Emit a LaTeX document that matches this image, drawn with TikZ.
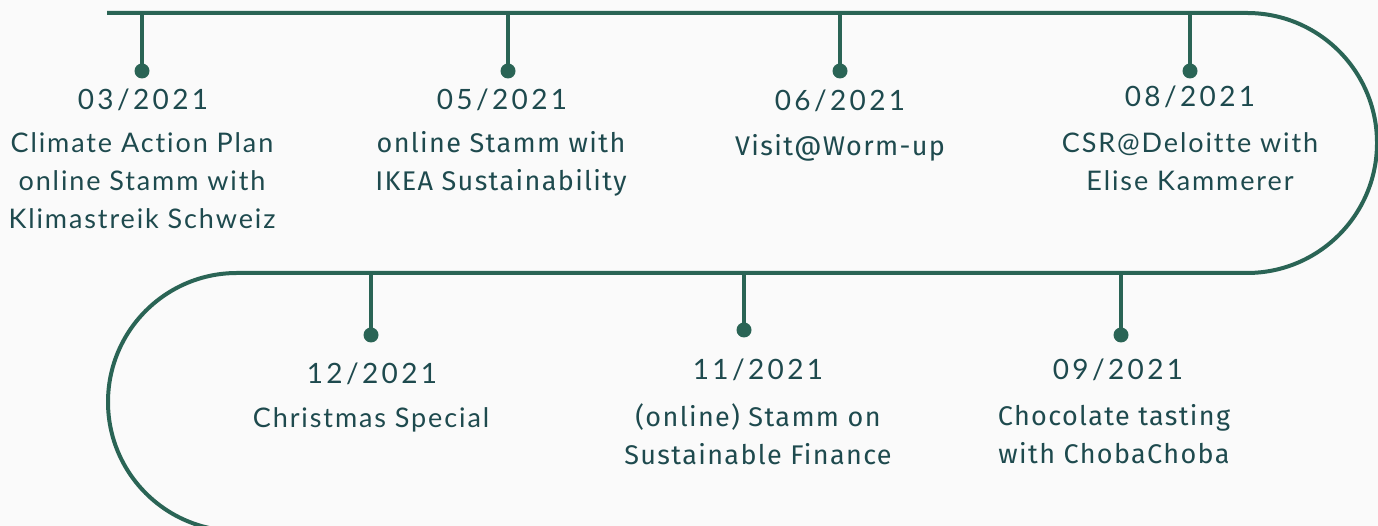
\documentclass[tikz,border=0pt]{standalone}
\usepackage{fontspec}
\setmainfont{Lato}
\newfontfamily\ralefont[LetterSpace=7,Ligatures=NoCommon]{Lato}
\newfontfamily\datefont[LetterSpace=12,Ligatures=NoCommon]{Lato}
\newfontfamily\plexfont[LetterSpace=5,Ligatures=NoCommon]{Fira Sans}
\definecolor{bg}{HTML}{FAFAFA}
\definecolor{linegreen}{HTML}{2A6455}
\definecolor{txt}{HTML}{1E4A4E}
\tikzset{
  timeline/.style={draw=linegreen, line width=4pt},
  dot/.style={circle, fill=linegreen, inner sep=0pt, minimum size=15pt},
  datelbl/.style={text=txt, font=\datefont\fontsize{28}{38}\selectfont, inner sep=0pt},
  desclbl/.style={text=txt, font=\ralefont\fontsize{27}{38}\selectfont, align=center, inner sep=0pt},
  plexlbl/.style={text=txt, font=\plexfont\fontsize{27}{38}\selectfont, align=center, inner sep=0pt},
}
\begin{document}
\begin{tikzpicture}[x=1pt,y=1pt]
\fill[bg] (0,0) rectangle (1378,526);
\useasboundingbox (0,0) rectangle (1378,526);
\begin{scope}
\clip (0,0) rectangle (1378,526);
\coordinate (start) at (107,513);
\coordinate (rturn) at (1247,513);
\coordinate (lturn) at (237,253);
\draw[timeline] (start) -- (rturn) arc[start angle=90, end angle=-90, radius=130] -- (lturn) arc[start angle=90, end angle=270, radius=129];
\end{scope}
% ticks top
\foreach \n/\x in {a/142, b/508, c/840, d/1190}{
  \coordinate (t\n) at (\x,513);
  \node[dot] (p\n) at (\x,455) {};
  \draw[timeline] (t\n) -- (p\n.center);
}
% ticks bottom
\foreach \n/\x/\y in {e/371/191, f/744/196, g/1121/191}{
  \coordinate (t\n) at (\x,253);
  \node[dot] (p\n) at (\x,\y) {};
  \draw[timeline] (t\n) -- (p\n.center);
}
% labels top
\node[datelbl] (da) at (143,426) {03/2021};
\node[desclbl] (ea) at (142,345) {Climate Action Plan\\online Stamm with\\Klimastreik Schweiz};
\node[datelbl] (db) at (502,426) {05/2021};
\node[plexlbl] (eb) at (501,362) {online Stamm with\\IKEA Sustainability};
\node[datelbl] (dc) at (840,425) {06/2021};
\node[plexlbl] (ec) at (840,378) {Visit@Worm-up};
\node[datelbl] (dd) at (1190,429) {08/2021};
\node[desclbl] (ed) at (1190,364) {CSR@Deloitte with\\Elise Kammerer};
% labels bottom
\node[datelbl] (de) at (372,152) {12/2021};
\node[desclbl] (ee) at (371,106) {Christmas Special};
\node[datelbl] (df) at (758,156) {11/2021};
\node[plexlbl] (ef) at (758,92) {(online) Stamm on\\Sustainable Finance};
\node[datelbl] (dg) at (1118,156) {09/2021};
\node[plexlbl] (eg) at (1114,92) {Chocolate tasting\\with ChobaChoba};
\end{tikzpicture}
\end{document}
